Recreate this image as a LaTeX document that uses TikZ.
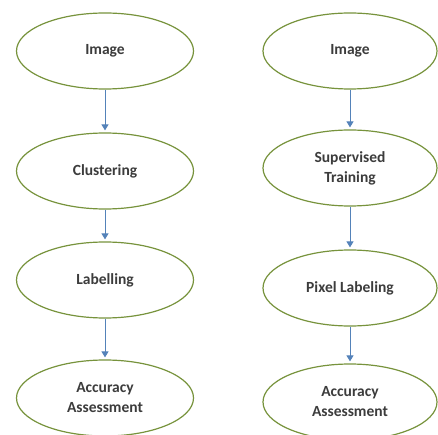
\documentclass[tikz,border=0pt]{standalone}
\usepackage{fontspec}
\setmainfont{Carlito}
\usetikzlibrary{shapes.geometric,arrows.meta}
\definecolor{olivegreen}{RGB}{119,147,60}
\definecolor{arrowblue}{RGB}{84,130,185}
\definecolor{txt}{RGB}{60,60,60}
\begin{document}
\begin{tikzpicture}[x=1pt,y=-1pt,
  stage/.style={ellipse,draw=olivegreen,line width=1.2pt,fill=white,
    minimum width=177pt,minimum height=76pt,inner sep=0pt,
    align=center,text=txt,font=\bfseries\fontsize{15.5}{20}\selectfont},
  flow/.style={draw=arrowblue,line width=1pt,
    -{Triangle[length=6pt,width=7pt]},shorten >=2pt}]
\useasboundingbox (0,0) rectangle (438,435);
\node[stage] (l1) at (105,51) {Image};
\node[stage] (l2) at (105,171) {Clustering};
\node[stage] (l3) at (105,280) {Labelling};
\node[stage] (l4) at (105,398) {Accuracy\\Assessment};
\node[stage,minimum width=174pt] (r1) at (350,51) {Image};
\node[stage,minimum width=174pt] (r2) at (350,168) {Supervised\\Training};
\node[stage,minimum width=174pt] (r3) at (350,288) {Pixel Labeling};
\node[stage,minimum width=174pt] (r4) at (350,402) {Accuracy\\Assessment};
\draw[flow] (l1) -- (l2);
\draw[flow] (l2) -- (l3);
\draw[flow] (l3) -- (l4);
\draw[flow] (r1) -- (r2);
\draw[flow] (r2) -- (r3);
\draw[flow] (r3) -- (r4);
\end{tikzpicture}
\end{document}
